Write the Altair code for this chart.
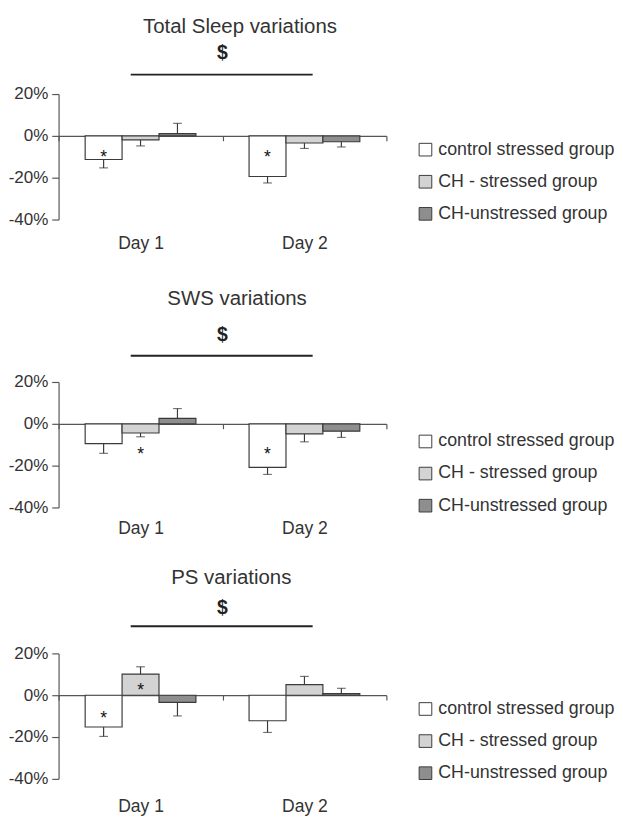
import altair as alt
import pandas as pd

FONT = "Liberation Sans"
STROKE = "#3a3a3a"
AXIS = "#555555"
TEXT = "#333333"

days = ["Day 1", "Day 2"]
groups = ["control stressed group", "CH - stressed group", "CH-unstressed group"]
fills = ["#ffffff", "#d3d3d3", "#8e8e8e"]

titles = ["Total Sleep variations", "SWS variations", "PS variations"]

# order: Day 1 (control, CH-stressed, CH-unstressed), then Day 2
total_mean = [-11.3, -1.9, 1.1, -19.4, -3.4, -2.8]
total_sem = [4.0, 2.9, 4.9, 3.1, 2.6, 2.5]
total_star = [-8.7, None, None, -8.8, None, None]

sws_mean = [-9.5, -4.4, 2.6, -20.8, -4.8, -3.5]
sws_sem = [4.6, 1.8, 4.7, 3.4, 3.8, 3.0]
sws_star = [None, -13.3, None, -13.3, None, None]

ps_mean = [-15.2, 10.1, -3.4, -12.2, 5.1, 0.8]
ps_sem = [4.5, 3.5, 6.5, 5.6, 3.9, 2.5]
ps_star = [-9.8, 3.6, None, None, None, None]

y_ticks = [-40, -20, 0, 20]
sig_label = "$"

W, H = 337, 129


def panel(title, mean, sem, star, title_dx, title_offset, label_pad,
          legend_y, dollar_y, line_y):
    df = pd.DataFrame({
        "day": [d for d in days for _ in groups],
        "group": groups * 2,
        "mean": mean,
        "sem": sem,
        "star": star,
    })
    base = alt.Chart(df).transform_calculate(
        end="datum.mean + (datum.mean < 0 ? -datum.sem : datum.sem)"
    )
    xscale = alt.Scale(domain=days, paddingInner=0, paddingOuter=0)
    xaxis = alt.Axis(title=None, labelAngle=0, offset=-2 * H / 3, tickBand="extent",
                     tickSize=5, labelPadding=label_pad, labelFontSize=18,
                     labelFont=FONT, labelColor=TEXT, domainColor=AXIS,
                     tickColor=AXIS, domainWidth=1.2, tickWidth=1.2)
    x = alt.X("day:N", sort=days, scale=xscale, axis=xaxis)
    xo = alt.XOffset(
        "group:N", sort=groups,
        scale=alt.Scale(domain=groups, paddingInner=0, paddingOuter=0.72),
    )
    y = alt.Y(
        "mean:Q",
        scale=alt.Scale(domain=[-40, 20], nice=False),
        axis=alt.Axis(title=None, values=y_ticks, labelExpr="datum.value + '%'",
                      grid=False, tickSize=7, labelPadding=4, labelFontSize=17.5,
                      labelFont=FONT, labelColor=TEXT, domainColor=AXIS,
                      tickColor=AXIS, domainWidth=1.2, tickWidth=1.2),
    )
    fill = alt.Fill(
        "group:N", sort=groups,
        scale=alt.Scale(domain=groups, range=fills),
        legend=alt.Legend(title=None, orient="none", legendX=368, legendY=legend_y,
                          symbolType="square", symbolSize=169,
                          symbolStrokeColor=STROKE, symbolStrokeWidth=1,
                          labelFontSize=18.3, labelFont=FONT, labelColor=TEXT,
                          rowPadding=14, labelOffset=4, padding=0, labelLimit=400),
    )
    bars = base.mark_bar(stroke=STROKE, strokeWidth=1.2).encode(
        x=x, xOffset=xo, y=y, fill=fill
    )
    err = base.mark_rule(color=STROKE, strokeWidth=1.2).encode(
        x=x, xOffset=xo, y="mean:Q", y2="end:Q"
    )
    caps = base.mark_tick(color=STROKE, thickness=1.2, size=9,
                          orient="horizontal").encode(x=x, xOffset=xo, y="end:Q")
    stars = base.transform_filter("isValid(datum.star)").mark_text(
        text="*", fontSize=18, font=FONT, color="#111", baseline="middle", dy=4
    ).encode(x=x, xOffset=xo, y="star:Q")

    sig_df = pd.DataFrame({"day": [days[0]], "day2": [days[1]], "lab": [sig_label]})
    sig = alt.Chart(sig_df).mark_rule(color="#222", strokeWidth=2).encode(
        x=alt.X("day:N", sort=days, scale=xscale, axis=xaxis, bandPosition=0.44),
        x2=alt.X2("day2:N", bandPosition=0.55),
        y=alt.value(line_y),
    )
    dollar = alt.Chart(sig_df).mark_text(
        fontSize=20, fontWeight="bold", font=FONT, color="#222", baseline="middle"
    ).encode(text="lab:N", x=alt.value(W / 2), y=alt.value(dollar_y))

    return alt.layer(bars, err, caps, stars, sig, dollar).properties(
        width=W, height=H,
        title=alt.TitleParams(title, fontSize=21, font=FONT, color=TEXT,
                              fontWeight="normal", dx=title_dx,
                              offset=title_offset, anchor="middle"),
    )


p1 = panel(titles[0], total_mean, total_sem, total_star, 18, 7, 97, 48, -42, -20)
p2 = panel(titles[1], sws_mean, sws_sem, sws_star, 15, 17, 94, 52, -48, -27)
p3 = panel(titles[2], ps_mean, ps_sem, ps_star, 9, 10, 101, 48, -47, -28)

top = alt.vconcat(p1, p2, spacing=37).resolve_legend(fill="independent")
chart = alt.vconcat(top, p3, spacing=31).resolve_legend(
    fill="independent"
).configure(font=FONT, padding={"top": -3, "left": 0, "right": 0, "bottom": 0}
).configure_view(stroke=None)

chart.save("out.html", embed_options={"renderer": "svg", "actions": False})
